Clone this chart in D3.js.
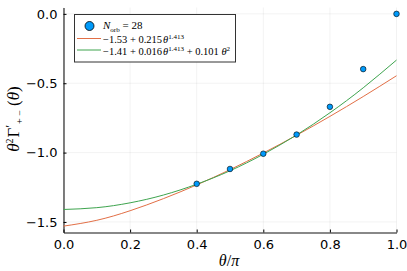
<!DOCTYPE html>
<html>
<head>
<meta charset="utf-8">
<script src="https://cdn.jsdelivr.net/npm/d3@7"></script>
<style>
  body { margin: 0; background: #fff; }
  svg { display: block; }
  .tick text { font-family: "DejaVu Sans", sans-serif; font-size: 13px; fill: #000; }
  .math { font-family: "Liberation Serif", "DejaVu Serif", serif; fill: #000; }
</style>
</head>
<body>
<svg width="407" height="271"></svg>
<script>
// data points (N_orb = 28)
const pointX = [0.4, 0.5, 0.6, 0.7, 0.8, 0.9, 1.0];
const pointY = [-1.225, -1.118, -1.008, -0.870, -0.670, -0.398, 0.0];

// fit curves on a 0.1 grid in theta/pi
const curveX = [0, 0.1, 0.2, 0.3, 0.4, 0.5, 0.6, 0.7, 0.8, 0.9, 1.0];
const fitA = [-1.530, -1.488, -1.419, -1.332, -1.233, -1.123, -1.003, -0.875, -0.739, -0.596, -0.446];
const fitB = [-1.410, -1.397, -1.362, -1.306, -1.228, -1.131, -1.012, -0.873, -0.713, -0.533, -0.333];

const xTicks = [0, 0.2, 0.4, 0.6, 0.8, 1.0];
const yTicks = [0, -0.5, -1.0, -1.5];

const svg = d3.select('svg');
const pl = 63.5, pr = 396.5, pt = 7.5, pb = 232.5;

const x = d3.scaleLinear().domain([0, 1]).range([pl, pr]);
const y = d3.scaleLinear().domain([-1.576, 0.046]).range([pb, pt]);

// grid
const grid = svg.append('g').attr('stroke', '#000').attr('stroke-opacity', 0.1).attr('stroke-width', 0.5);
grid.selectAll('.gx').data(xTicks).enter().append('line')
    .attr('x1', d => x(d)).attr('x2', d => x(d))
    .attr('y1', pt).attr('y2', pb);
grid.selectAll('.gy').data(yTicks).enter().append('line')
    .attr('x1', pl).attr('x2', pr)
    .attr('y1', d => y(d)).attr('y2', d => y(d));

// axes
const xAxis = svg.append('g')
    .attr('transform', 'translate(0,' + pb + ')')
    .call(d3.axisBottom(x).tickValues(xTicks).tickFormat(d3.format('.1f')).tickSizeInner(-3).tickSizeOuter(0).tickPadding(6));
xAxis.select('.domain').attr('stroke', '#888').attr('stroke-width', 2);
xAxis.selectAll('.tick line').attr('stroke', '#000');
xAxis.selectAll('.tick text').attr('dy', '0.82em');

const yAxis = svg.append('g')
    .attr('transform', 'translate(' + pl + ',0)')
    .call(d3.axisLeft(y).tickValues(yTicks).tickFormat(d => d3.format('.1f')(d).replace('-', '\u2212')).tickSizeInner(-3).tickSizeOuter(0).tickPadding(6));
yAxis.select('.domain').attr('stroke', '#000').attr('stroke-width', 1);

// fits
const line = d3.line().x((d, i) => x(curveX[i])).y(d => y(d)).curve(d3.curveNatural);
const plot = svg.append('g');
plot.append('path').datum(fitA).attr('d', line)
    .attr('fill', 'none').attr('stroke', '#E26F46').attr('stroke-width', 1);
plot.append('path').datum(fitB).attr('d', line)
    .attr('fill', 'none').attr('stroke', '#3EA44E').attr('stroke-width', 1);

// points
plot.selectAll('.dot').data(pointX).enter().append('circle')
    .attr('cx', d => x(d)).attr('cy', (d, i) => y(pointY[i]))
    .attr('r', 2.8)
    .attr('fill', '#009AFA').attr('stroke', '#000').attr('stroke-width', 0.6);

// axis labels
const xl = svg.append('text').attr('class', 'math')
    .attr('x', 229).attr('y', 266).attr('text-anchor', 'middle').style('font-size', '16px');
xl.append('tspan').style('font-style', 'italic').text('θ');
xl.append('tspan').text('/');
xl.append('tspan').style('font-style', 'italic').text('π');

const yl = svg.append('text').attr('class', 'math')
    .attr('transform', 'translate(19,119) rotate(-90)')
    .attr('text-anchor', 'middle').style('font-size', '17px');
yl.append('tspan').style('font-style', 'italic').text('θ');
yl.append('tspan').attr('dy', -6).style('font-size', '10px').text('2');
yl.append('tspan').attr('dy', 6).attr('dx', 1).text('Γ');
yl.append('tspan').attr('dy', -5).style('font-size', '12px').text('′');
yl.append('tspan').attr('dy', 9).attr('dx', 1).style('font-size', '10px').text('+ −');
yl.append('tspan').attr('dy', -4).text('  (');
yl.append('tspan').style('font-style', 'italic').text('θ');
yl.append('tspan').text(')');

// legend
const legend = svg.append('g');
legend.append('rect')
    .attr('x', 74.5).attr('y', 14.5).attr('width', 161).attr('height', 47.5)
    .attr('fill', '#fff').attr('stroke', '#333').attr('stroke-width', 1);

const rows = [26, 39, 50];
legend.append('circle').attr('cx', 89.5).attr('cy', rows[0]).attr('r', 4.5)
    .attr('fill', '#009AFA').attr('stroke', '#000').attr('stroke-width', 0.8);
legend.append('line').attr('x1', 77).attr('x2', 101).attr('y1', rows[1] - 0.5).attr('y2', rows[1] - 0.5)
    .attr('stroke', '#E26F46').attr('stroke-width', 1);
legend.append('line').attr('x1', 77).attr('x2', 101).attr('y1', rows[2]).attr('y2', rows[2])
    .attr('stroke', '#3EA44E').attr('stroke-width', 1);

const t1 = legend.append('text').attr('class', 'math').attr('x', 103).attr('y', 29).style('font-size', '11px');
t1.append('tspan').style('font-style', 'italic').text('N');
t1.append('tspan').attr('dy', 2.5).style('font-size', '7px').text('orb');
t1.append('tspan').attr('dy', -2.5).text(' = 28');

const t2 = legend.append('text').attr('class', 'math').attr('x', 103).attr('y', 43).style('font-size', '10.5px');
t2.append('tspan').text('−1.53 + 0.215');
t2.append('tspan').attr('dx', 1).style('font-style', 'italic').text('θ');
t2.append('tspan').attr('dy', -4).style('font-size', '7px').text('1.413');

const t3 = legend.append('text').attr('class', 'math').attr('x', 103).attr('y', 55).style('font-size', '10.5px');
t3.append('tspan').text('−1.41 + 0.016');
t3.append('tspan').attr('dx', 1).style('font-style', 'italic').text('θ');
t3.append('tspan').attr('dy', -4).style('font-size', '7px').text('1.413');
t3.append('tspan').attr('dy', 4).text(' + 0.101 ');
t3.append('tspan').style('font-style', 'italic').text('θ');
t3.append('tspan').attr('dy', -4).style('font-size', '7px').text('2');
</script>
</body>
</html>
